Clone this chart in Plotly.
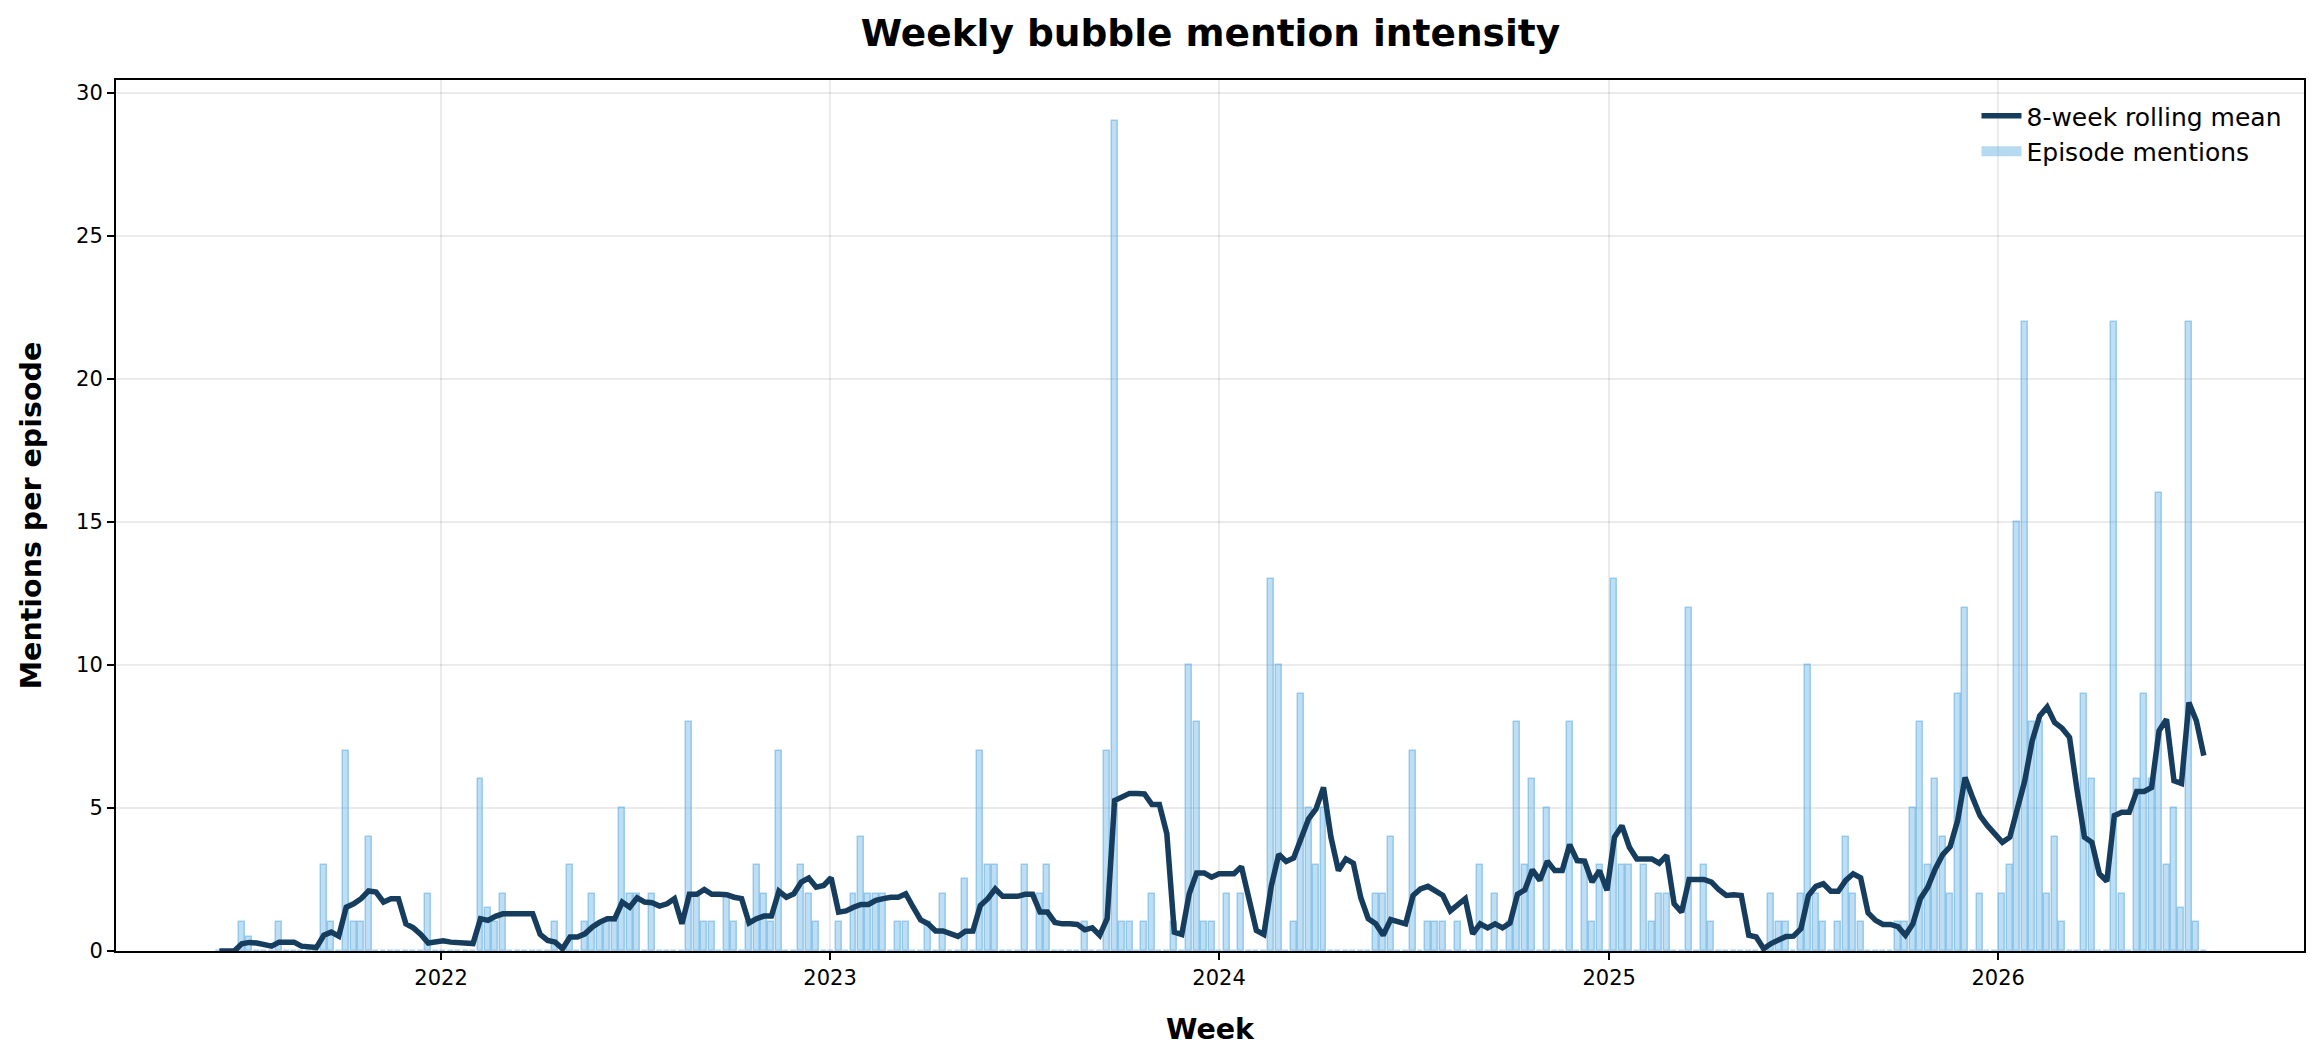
import pandas as pd
import plotly.graph_objects as go

# ---- data ----
week_start = "2021-06-07"
n_weeks = 267

episode_mentions = [
    0, 0, 0, 1, 0.5, 0, 0, 0, 1, 0,            # 0-9
    0, 0, 0, 0, 3, 1, 0, 7, 1, 1,              # 10-19
    4, 0, 0, 0, 0, 0, 0, 0, 2, 0,              # 20-29
    0, 0, 0, 0, 0, 6, 1.5, 1, 2, 0,            # 30-39
    0, 0, 0, 0, 0, 1, 0, 3, 0, 1,              # 40-49
    2, 1, 1, 1, 5, 2, 2, 0, 2, 0,              # 50-59
    0, 0, 0, 8, 2, 1, 1, 0, 2, 1,              # 60-69
    0, 1, 3, 2, 1, 7, 0, 0, 3, 2,              # 70-79
    1, 0, 0, 1, 0, 2, 4, 2, 2, 2,              # 80-89
    0, 1, 1, 0, 0, 1, 0, 2, 0, 0,              # 90-99
    2.5, 0, 7, 3, 3, 0, 0, 0, 3, 0,            # 100-109
    2, 3, 0, 0, 0, 0, 1, 0, 0, 7,              # 110-119
    29, 1, 1, 0, 1, 2, 0, 0, 1, 0,             # 120-129
    10, 8, 1, 1, 0, 2, 0, 2, 0, 0,             # 130-139
    0, 13, 10, 0, 1, 9, 5, 3, 5, 0,            # 140-149
    0, 0, 0, 0, 0, 2, 2, 4, 0, 0,              # 150-159
    7, 0, 1, 1, 1, 0, 1, 0, 0, 3,              # 160-169
    0, 2, 0, 1, 8, 3, 6, 0, 5, 0,              # 170-179
    0, 8, 0, 3, 1, 3, 0, 13, 3, 3,             # 180-189
    0, 3, 1, 2, 2, 0, 0, 12, 0, 3,             # 190-199
    1, 0, 0, 0, 0, 0, 0, 0, 2, 1,              # 200-209
    1, 0, 2, 10, 2, 1, 0, 1, 4, 2,             # 210-219
    1, 0, 0, 0, 0, 1, 1, 5, 8, 3,              # 220-229
    6, 4, 2, 9, 12, 0, 2, 0, 0, 2,             # 230-239
    3, 15, 22, 8, 8, 2, 4, 1, 0, 0,            # 240-249
    9, 6, 0, 0, 22, 2, 0, 6, 9, 6,             # 250-259
    16, 3, 5, 1.5, 22, 1, 0,                   # 260-266
]

rolling_mean = [
    0, 0, 0, 0.25, 0.3, 0.28, 0.21, 0.17, 0.31, 0.31,
    0.31, 0.17, 0.13, 0.12, 0.55, 0.66, 0.52, 1.53, 1.65, 1.83,
    2.1, 2.06, 1.71, 1.83, 1.83, 0.95, 0.81, 0.58, 0.28, 0.3,
    0.36, 0.31, 0.3, 0.26, 0.26, 1.13, 1.07, 1.21, 1.3, 1.3,
    1.3, 1.3, 1.3, 0.58, 0.37, 0.31, 0.08, 0.49, 0.49, 0.6,
    0.84, 1.01, 1.13, 1.13, 1.71, 1.53, 1.86, 1.71, 1.69, 1.57,
    1.65, 1.83, 0.95, 1.98, 1.98, 2.15, 1.98, 1.98, 1.97, 1.88,
    1.83, 0.98, 1.13, 1.22, 1.22, 2.09, 1.88, 2.0, 2.41, 2.55,
    2.23, 2.29, 2.56, 1.36, 1.4, 1.53, 1.63, 1.63, 1.77, 1.83,
    1.88, 1.88, 2.0, 1.53, 1.09, 0.95, 0.7, 0.7, 0.6, 0.51,
    0.69, 0.7, 1.59, 1.83, 2.17, 1.91, 1.91, 1.91, 1.98, 1.98,
    1.36, 1.36, 1.0, 0.95, 0.95, 0.93, 0.74, 0.81, 0.55, 1.13,
    5.26, 5.4, 5.51, 5.51, 5.49, 5.12, 5.12, 4.1, 0.66, 0.58,
    2.0, 2.73, 2.73, 2.58, 2.7, 2.7, 2.7, 2.95, 1.9, 0.72,
    0.58, 2.27, 3.38, 3.13, 3.25, 3.95, 4.62, 4.97, 5.72, 3.98,
    2.81, 3.22, 3.07, 1.86, 1.13, 0.95, 0.55, 1.1, 1.03, 0.95,
    1.94, 2.17, 2.26, 2.12, 1.94, 1.4, 1.59, 1.83, 0.6, 0.95,
    0.81, 0.95, 0.81, 0.98, 1.98, 2.14, 2.84, 2.47, 3.14, 2.81,
    2.81, 3.72, 3.16, 3.14, 2.41, 2.81, 2.12, 3.98, 4.38, 3.63,
    3.22, 3.22, 3.22, 3.07, 3.34, 1.65, 1.36, 2.5, 2.5, 2.5,
    2.41, 2.14, 1.94, 1.97, 1.94, 0.55, 0.49, 0.08, 0.26, 0.4,
    0.51, 0.52, 0.78, 1.94, 2.26, 2.35, 2.09, 2.09, 2.47, 2.7,
    2.56, 1.33, 1.07, 0.93, 0.93, 0.85, 0.55, 0.95, 1.83, 2.23,
    2.87, 3.37, 3.65, 4.56, 6.07, 5.37, 4.73, 4.38, 4.09, 3.8,
    3.98, 4.88, 5.95, 7.35, 8.22, 8.53, 7.99, 7.79, 7.47, 5.64,
    3.98, 3.8, 2.7, 2.44, 4.73, 4.85, 4.85, 5.58, 5.58, 5.72,
    7.7, 8.1, 5.95, 5.86, 8.69, 8.05, 6.83,
]

weeks = pd.date_range(start=week_start, periods=n_weeks, freq="7D")

title_text = "Weekly bubble mention intensity"
x_title = "Week"
y_title = "Mentions per episode"
line_name = "8-week rolling mean"
bar_name = "Episode mentions"

FONT = "DejaVu Sans"
bar_fill = "rgba(93,173,226,0.40)"
bar_edge = "rgba(93,173,226,0.55)"
line_color = "#173d5e"

fig = go.Figure()
fig.add_trace(go.Bar(
    x=weeks, y=episode_mentions, name=bar_name, showlegend=False,
    width=5.6 * 86400000,
    marker=dict(color=bar_fill, line=dict(color=bar_edge, width=1.5)),
))
fig.add_trace(go.Scatter(
    x=weeks, y=rolling_mean, mode="lines", name=line_name,
    line=dict(color=line_color, width=5.5),
))
# legend swatch for the bars (wide light-blue patch, as in the reference)
fig.add_trace(go.Scatter(
    x=[None], y=[None], mode="lines", name=bar_name,
    line=dict(color="rgba(93,173,226,0.45)", width=15),
))

fig.update_layout(
    width=2322, height=1062,
    margin=dict(l=116, r=18, t=80, b=111),
    paper_bgcolor="white", plot_bgcolor="white",
    font=dict(family=FONT, size=21, color="black"),
    title=dict(text="<b>" + title_text + "</b>", x=0.5213, xanchor="center",
               y=1 - 33 / 1062, yanchor="middle", yref="container",
               font=dict(size=37.5, family=FONT, color="black")),
    showlegend=True,
    legend=dict(x=0.992, xanchor="right", y=0.985, yanchor="top",
                bgcolor="rgba(0,0,0,0)", borderwidth=0,
                font=dict(size=25, family=FONT), traceorder="normal",
                itemwidth=40, tracegroupgap=0),
    bargap=0,
)

fig.update_xaxes(
    type="date",
    range=["2021-03-02", "2026-10-15"],
    tick0="2022-01-01", dtick="M12", tickformat="%Y",
    showgrid=True, gridcolor="rgba(0,0,0,0.08)", gridwidth=1.5,
    showline=True, linecolor="black", linewidth=2, mirror=True,
    ticks="outside", ticklen=7, tickwidth=2, tickcolor="black",
    tickfont=dict(size=21, family=FONT),
    title=dict(text="<b>" + x_title + "</b>", font=dict(size=28.5, family=FONT), standoff=30),
    zeroline=False,
)
fig.update_yaxes(
    range=[0, 30.45],
    tick0=0, dtick=5,
    showgrid=True, gridcolor="rgba(0,0,0,0.08)", gridwidth=1.5,
    showline=True, linecolor="black", linewidth=2, mirror=True,
    ticks="outside", ticklen=7, tickwidth=2, tickcolor="black",
    tickfont=dict(size=21, family=FONT),
    title=dict(text="<b>" + y_title + "</b>", font=dict(size=28.5, family=FONT), standoff=26),
    zeroline=False,
)

fig.write_html("out.html")
